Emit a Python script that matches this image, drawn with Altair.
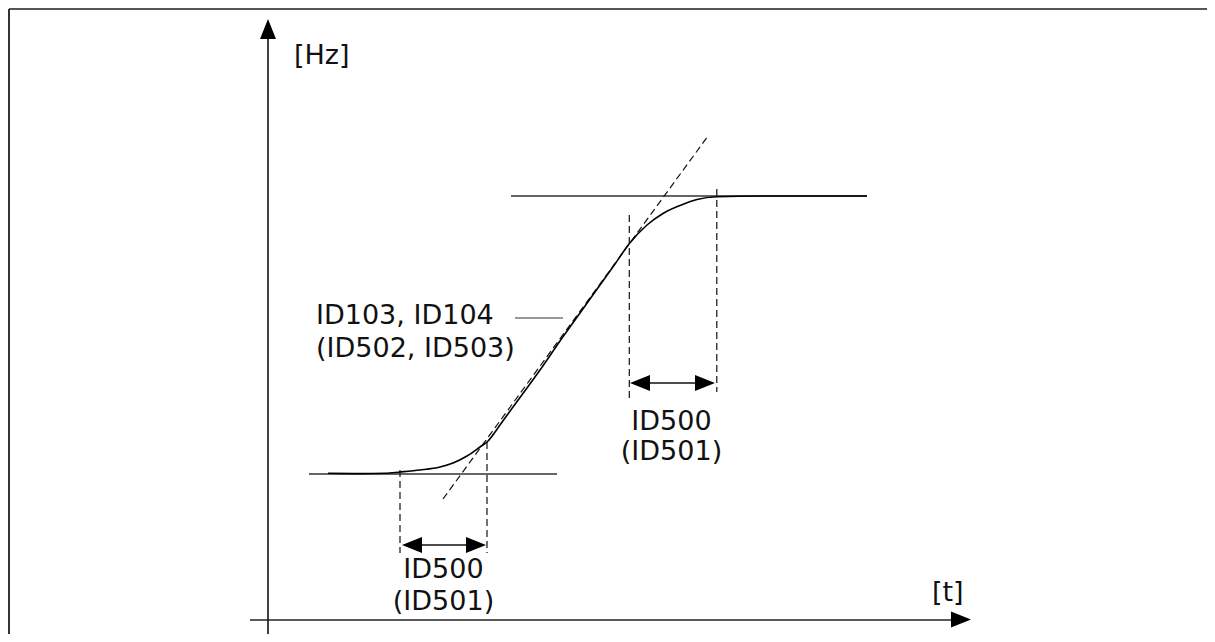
import altair as alt
import pandas as pd

# ---- diagram geometry (page pixel coordinates) ----
# solid straight segments
seg_names = ["frame_top", "frame_left", "y_axis", "x_axis", "hz_low", "hz_high",
             "leader", "arrow_low", "arrow_high"]
seg_x1 = [9, 9, 268, 250, 309, 511, 515, 412, 642]
seg_y1 = [9, 9, 636, 620, 474, 196, 318, 545, 383]
seg_x2 = [1215, 9, 268, 955, 557, 867, 563, 476, 703]
seg_y2 = [9, 642, 36, 620, 474, 196, 318, 545, 383]
seg_col = ["#555555", "#333333", "#111111", "#222222", "#333333", "#333333",
           "#333333", "#111111", "#111111"]
seg_w = [2, 2, 1.6, 1.6, 1.4, 1.4, 1.2, 1.4, 1.4]

# dashed segments (tangent of ramp and time markers)
dash_x1 = [443, 400, 487, 629.3, 716.8]
dash_y1 = [499, 470, 442, 215, 189]
dash_x2 = [708, 400, 487, 629.3, 716.8]
dash_y2 = [136, 553, 553, 400, 392]

# S-ramp curve
curve_x = [328, 360, 385, 400, 420, 440, 453, 467, 480, 487, 500, 513, 527, 540,
           560, 580, 600, 615, 629, 647, 663, 680, 697, 717, 760, 820, 867]
curve_y = [473.3, 473.6, 473.3, 472, 470, 467, 463, 456, 447, 442, 425, 407, 388, 370,
           341, 313, 285, 264, 244, 225, 213.5, 205.5, 199.5, 196.8, 196, 196, 196]

# arrow heads: tip position and direction (degrees, clockwise from pointing right)
head_x = [268, 971, 402, 486, 630, 715]
head_y = [19, 619.5, 545, 545, 383, 383]
head_angle = [270, 0, 180, 0, 180, 0]

# text labels (y is text baseline)
lab_text = ["[Hz]", "[t]", "ID103, ID104", "(ID502, ID503)"]
lab_x = [294, 932, 316, 316]
lab_y = [64, 601, 324, 357]

clab_text = ["ID500", "(ID501)", "ID500", "(ID501)"]
clab_x = [443.5, 443.5, 671.5, 671.5]
clab_y = [578, 610, 430, 460]

W, H = 1199, 626
xs = alt.Scale(domain=[8, 8 + W], nice=False, zero=False)
ys = alt.Scale(domain=[8, 8 + H], nice=False, zero=False, reverse=True)

segs = pd.DataFrame({"name": seg_names, "x1": seg_x1, "y1": seg_y1, "x2": seg_x2,
                     "y2": seg_y2, "col": seg_col, "w": seg_w})
dashes = pd.DataFrame({"x1": dash_x1, "y1": dash_y1, "x2": dash_x2, "y2": dash_y2})
curve = pd.DataFrame({"x": curve_x, "y": curve_y, "i": list(range(len(curve_x)))})
heads = pd.DataFrame({"x": head_x, "y": head_y, "a": head_angle})
labs = pd.DataFrame({"t": lab_text, "x": lab_x, "y": lab_y})
clabs = pd.DataFrame({"t": clab_text, "x": clab_x, "y": clab_y})

solid = alt.Chart(segs).mark_rule(strokeCap="butt").encode(
    x=alt.X("x1:Q", scale=xs, axis=None),
    y=alt.Y("y1:Q", scale=ys, axis=None),
    x2="x2:Q", y2="y2:Q",
    color=alt.Color("col:N", scale=None),
    strokeWidth=alt.StrokeWidth("w:Q", scale=None),
)

dashed = alt.Chart(dashes).mark_rule(color="#111111", strokeWidth=1.2,
                                     strokeDash=[7, 4]).encode(
    x=alt.X("x1:Q", scale=xs, axis=None),
    y=alt.Y("y1:Q", scale=ys, axis=None),
    x2="x2:Q", y2="y2:Q",
)

ramp = alt.Chart(curve).mark_line(color="#000000", strokeWidth=1.6,
                                  interpolate="monotone").encode(
    x=alt.X("x:Q", scale=xs, axis=None),
    y=alt.Y("y:Q", scale=ys, axis=None),
    order="i:Q",
)

ARROW = "M0,0L-2,-0.8L-2,0.8Z"
arrows = alt.Chart(heads).mark_point(shape=ARROW, filled=True, size=400,
                                     color="#000000", opacity=1,
                                     strokeWidth=0).encode(
    x=alt.X("x:Q", scale=xs, axis=None),
    y=alt.Y("y:Q", scale=ys, axis=None),
    angle=alt.Angle("a:Q", scale=None),
)

text_left = alt.Chart(labs).mark_text(align="left", baseline="alphabetic",
                                      font="DejaVu Sans", fontSize=27,
                                      color="#111111").encode(
    x=alt.X("x:Q", scale=xs, axis=None),
    y=alt.Y("y:Q", scale=ys, axis=None),
    text="t:N",
)

text_center = alt.Chart(clabs).mark_text(align="center", baseline="alphabetic",
                                         font="DejaVu Sans", fontSize=27,
                                         color="#111111").encode(
    x=alt.X("x:Q", scale=xs, axis=None),
    y=alt.Y("y:Q", scale=ys, axis=None),
    text="t:N",
)

chart = alt.layer(solid, dashed, ramp, arrows, text_left, text_center).properties(
    width=W, height=H, padding=0,
    autosize=alt.AutoSizeParams(type="none"),
).configure_view(stroke=None, strokeWidth=0)

chart.save("out.html", embed_options={"renderer": "svg", "actions": False})
